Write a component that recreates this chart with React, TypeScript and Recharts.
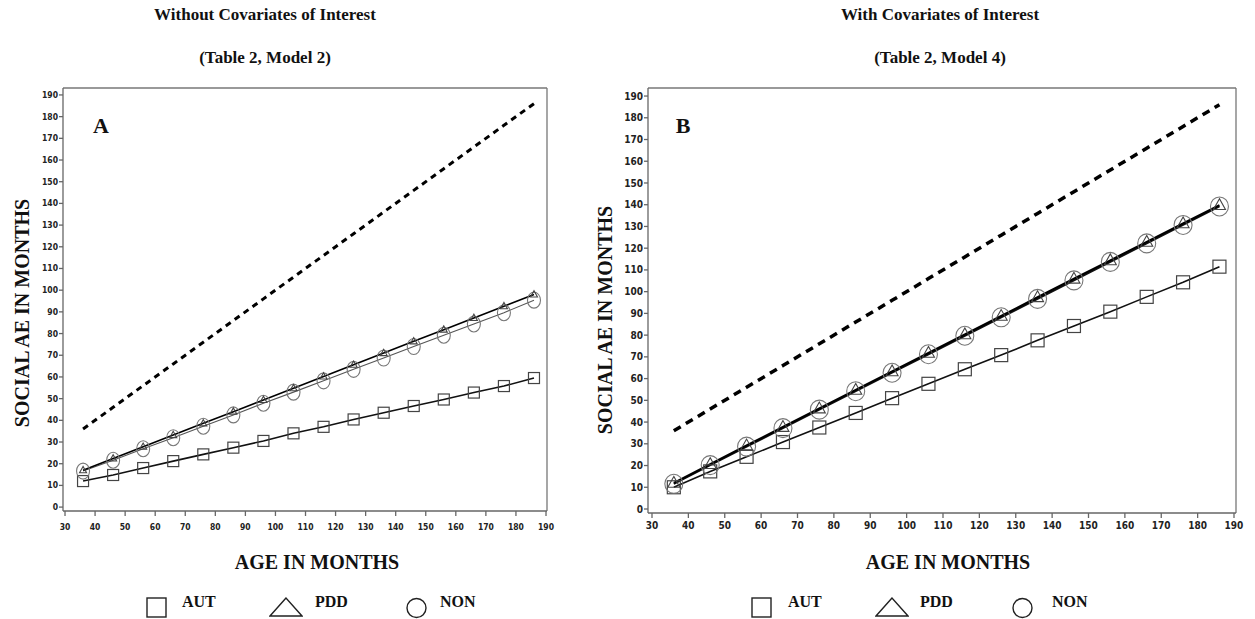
import React from 'react';
import { LineChart, Line, XAxis, YAxis, ReferenceLine } from 'recharts';

// ---- data ----
const ages = [36, 46, 56, 66, 76, 86, 96, 106, 116, 126, 136, 146, 156, 166, 176, 186];

// Panel A: Without Covariates of Interest (Table 2, Model 2)
const chronoA = [36, 46, 56, 66, 76, 86, 96, 106, 116, 126, 136, 146, 156, 166, 176, 186];
const autA = [12, 14.8, 18, 21.2, 24.3, 27.4, 30.5, 34, 37, 40.4, 43.5, 46.6, 49.6, 52.8, 55.8, 59.5];
const pddA = [17, 22.4, 27.8, 33.2, 38.6, 44, 49.4, 54.8, 60.2, 65.6, 71, 76.4, 81.8, 87.2, 92.6, 98];
const nonA = [16.6, 21.6, 26.9, 32, 37.3, 42.5, 47.9, 53, 58.2, 63.5, 68.7, 74, 79.2, 84.4, 89.6, 95.4];

// Panel B: With Covariates of Interest (Table 2, Model 4)
const chronoB = [36, 46, 56, 66, 76, 86, 96, 106, 116, 126, 136, 146, 156, 166, 176, 186];
const autB = [10, 17.3, 24, 30.8, 37.5, 44.2, 51, 57.6, 64.3, 70.8, 77.6, 84.2, 90.8, 97.6, 104.3, 111.5];
const pddB = [12, 20.6, 29.2, 37.7, 46.2, 54.8, 63.3, 71.8, 80.3, 88.8, 97.4, 105.9, 114.4, 122.9, 131.4, 139.8];
const nonB = [11.6, 20.2, 28.7, 37.2, 45.7, 54.2, 62.7, 71.2, 79.7, 88.2, 96.7, 105.2, 113.7, 122.2, 130.7, 139.2];

const xTicks = [30, 40, 50, 60, 70, 80, 90, 100, 110, 120, 130, 140, 150, 160, 170, 180, 190];
const yTicks = [0, 10, 20, 30, 40, 50, 60, 70, 80, 90, 100, 110, 120, 130, 140, 150, 160, 170, 180, 190];

const groups = ['AUT', 'PDD', 'NON'];

const rowsA = ages.map((a, i) => ({ age: a, ref: chronoA[i], aut: autA[i], pdd: pddA[i], non: nonA[i] }));
const rowsB = ages.map((a, i) => ({ age: a, ref: chronoB[i], aut: autB[i], pdd: pddB[i], non: nonB[i] }));

const serif = "'Liberation Serif', 'Times New Roman', serif";
const tickFont = "'DejaVu Sans Condensed', 'Liberation Sans Narrow', 'DejaVu Sans', sans-serif";

const squareDot = (size: number, stroke: string) => (p: any) => {
  const { cx, cy, index } = p;
  if (cx == null || cy == null) return <g key={`sq${index}`} />;
  return (
    <rect key={`sq${index}`} x={cx - size / 2} y={cy - size / 2} width={size} height={size}
      fill="none" stroke={stroke} strokeWidth={1.2} />
  );
};
const triDot = (w: number, stroke: string) => (p: any) => {
  const { cx, cy, index } = p;
  if (cx == null || cy == null) return <g key={`tr${index}`} />;
  const h = w * 0.9;
  const pts = `${cx},${cy - h * 0.6} ${cx - w / 2},${cy + h * 0.4} ${cx + w / 2},${cy + h * 0.4}`;
  return <polygon key={`tr${index}`} points={pts} fill="none" stroke={stroke} strokeWidth={1.1} />;
};
const circDot = (rx: number, ry: number, stroke: string) => (p: any) => {
  const { cx, cy, index } = p;
  if (cx == null || cy == null) return <g key={`ci${index}`} />;
  return <ellipse key={`ci${index}`} cx={cx} cy={cy} rx={rx} ry={ry} fill="none" stroke={stroke} strokeWidth={1.1} />;
};

type PanelProps = {
  left: number; width: number; data: any[];
  margin: { top: number; right: number; bottom: number; left: number };
  yAxisWidth: number; xDom: [number, number]; yDom: [number, number];
  tickSize: number; xTickMargin: number; dash: string; dashWidth: number;
  big: boolean;
};

function Panel(pr: PanelProps) {
  const tickStyle = { fontFamily: tickFont, fontWeight: 700, fontSize: pr.tickSize, fill: '#222', fontStretch: 'condensed' as any };
  return (
    <div style={{ position: 'absolute', left: pr.left, top: 0 }}>
      <LineChart width={pr.width} height={619} data={pr.data} margin={pr.margin}>
        <XAxis dataKey="age" type="number" domain={pr.xDom} ticks={xTicks} interval={0}
          allowDataOverflow tick={tickStyle} tickSize={5} tickMargin={pr.xTickMargin}
          axisLine={{ stroke: '#666', strokeWidth: 1.3 }} tickLine={{ stroke: '#666', strokeWidth: 1.3 }} height={30} />
        <YAxis type="number" domain={pr.yDom} ticks={yTicks} interval={0} allowDataOverflow
          tick={tickStyle} tickSize={4} tickMargin={1} width={pr.yAxisWidth}
          axisLine={{ stroke: '#666', strokeWidth: 1.3 }} tickLine={{ stroke: '#666', strokeWidth: 1.3 }} />
        <ReferenceLine y={pr.yDom[1]} stroke="#777" strokeWidth={1.3} />
        <ReferenceLine x={pr.xDom[1]} stroke="#777" strokeWidth={1.3} />
        <Line dataKey="ref" stroke="#000" strokeWidth={pr.dashWidth} strokeDasharray={pr.dash}
          dot={false} isAnimationActive={false} />
        <Line dataKey="aut" stroke="#111" strokeWidth={1.6}
          dot={squareDot(pr.big ? 13 : 11, '#444')} isAnimationActive={false} />
        <Line dataKey="non" stroke={pr.big ? '#111' : '#555'} strokeWidth={pr.big ? 2 : 1.1}
          dot={pr.big ? circDot(9, 9.5, '#777') : circDot(6.5, 8, '#777')} isAnimationActive={false} />
        <Line dataKey="pdd" stroke="#000" strokeWidth={pr.big ? 2.2 : 1.6}
          dot={pr.big ? triDot(12, '#444') : triDot(7, '#444')} isAnimationActive={false} />
      </LineChart>
    </div>
  );
}

const textBase: React.CSSProperties = { position: 'absolute', fontFamily: serif, fontWeight: 700, color: '#111', whiteSpace: 'nowrap' };

function Centered({ x, y, size, children }: { x: number; y: number; size: number; children: any }) {
  return (
    <div style={{ ...textBase, left: x, top: y, fontSize: size, transform: 'translate(-50%, -50%)' }}>{children}</div>
  );
}

function VLabel({ x, y, text }: { x: number; y: number; text: string }) {
  return (
    <div style={{ ...textBase, left: x, top: y, fontSize: 20, transform: 'translate(-50%, -50%) rotate(-90deg)' }}>{text}</div>
  );
}

function LegendItem({ kind, cx, tx }: { kind: string; cx: number; tx: number }) {
  let icon: any = null;
  if (kind === 'AUT') icon = <rect x={2} y={2} width={19} height={19} fill="none" stroke="#222" strokeWidth={1.4} />;
  if (kind === 'PDD') icon = <polygon points="17,2 1,20 33,20" fill="none" stroke="#222" strokeWidth={1.4} />;
  if (kind === 'NON') icon = <ellipse cx={11.5} cy={12} rx={9.5} ry={9.5} fill="none" stroke="#222" strokeWidth={1.4} />;
  const w = kind === 'PDD' ? 34 : 23;
  return (
    <>
      <svg style={{ position: 'absolute', left: cx - w / 2, top: 596 }} width={w} height={23}>{icon}</svg>
      <div style={{ ...textBase, left: tx, top: 602, fontSize: 16, transform: 'translateY(-50%)' }}>{kind}</div>
    </>
  );
}

export default function App() {
  return (
    <div style={{ position: 'absolute', left: 0, top: 0, width: 1255, height: 619, background: '#fff', overflow: 'hidden' }}>
      <Panel left={0} width={600} data={rowsA}
        margin={{ top: 88, right: 53, bottom: 78, left: 23 }} yAxisWidth={40}
        xDom={[29.33, 190.33]} yDom={[-1.8, 193.2]} tickSize={8.5} xTickMargin={8}
        dash="6 5" dashWidth={3} big={false} />
      <Panel left={600} width={655} data={rowsB}
        margin={{ top: 88, right: 19, bottom: 76, left: 12 }} yAxisWidth={36}
        xDom={[28.9, 190.55]} yDom={[-1.84, 193.7]} tickSize={10} xTickMargin={4}
        dash="8 6" dashWidth={3.5} big={true} />

      <Centered x={265} y={15} size={17}>Without Covariates of Interest</Centered>
      <Centered x={265} y={58} size={17}>(Table 2, Model 2)</Centered>
      <Centered x={940} y={15} size={17}>With Covariates of Interest</Centered>
      <Centered x={940} y={58} size={17}>(Table 2, Model 4)</Centered>

      <Centered x={101} y={126} size={22}>A</Centered>
      <Centered x={683} y={126} size={22}>B</Centered>

      <VLabel x={22} y={313} text="SOCIAL AE IN MONTHS" />
      <VLabel x={605} y={320} text="SOCIAL AE IN MONTHS" />

      <Centered x={317} y={562} size={20}>AGE IN MONTHS</Centered>
      <Centered x={948} y={562} size={20}>AGE IN MONTHS</Centered>

      <LegendItem kind={groups[0]} cx={156} tx={182} />
      <LegendItem kind={groups[1]} cx={286} tx={315} />
      <LegendItem kind={groups[2]} cx={416} tx={440} />
      <LegendItem kind={groups[0]} cx={761} tx={788} />
      <LegendItem kind={groups[1]} cx={892} tx={920} />
      <LegendItem kind={groups[2]} cx={1022} tx={1052} />
    </div>
  );
}
